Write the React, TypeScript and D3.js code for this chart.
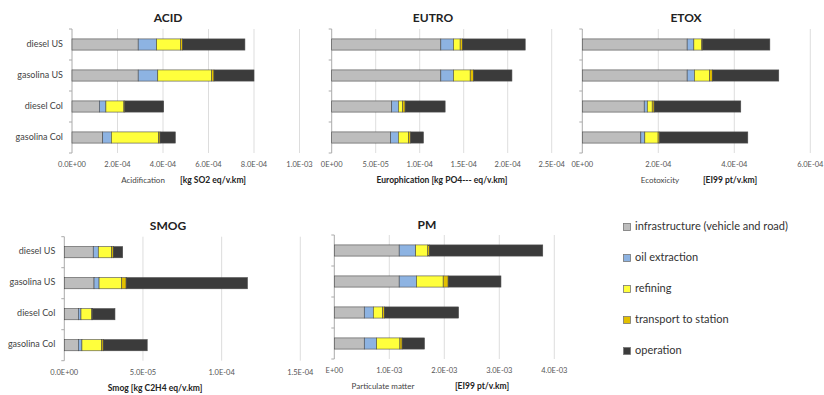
import React from 'react';
import * as d3 from 'd3';

const categories = ['diesel US', 'gasolina US', 'diesel Col', 'gasolina Col'];
const seriesNames = [
  'infrastructure (vehicle and road)',
  'oil extraction',
  'refining',
  'transport to station',
  'operation',
];
const seriesColors = ['#bdbdbd', '#8db3e2', '#ffff3c', '#e3c000', '#3b3b3b'];

// rows follow categories, columns follow seriesNames
const acidValues = [
  [2.91e-4, 0.81e-4, 1.05e-4, 0.09e-4, 2.74e-4],
  [2.91e-4, 0.86e-4, 2.37e-4, 0.1e-4, 1.76e-4],
  [1.2e-4, 0.29e-4, 0.79e-4, 0.04e-4, 1.71e-4],
  [1.35e-4, 0.38e-4, 2.08e-4, 0.06e-4, 0.67e-4],
];
const eutroValues = [
  [1.24e-4, 0.144e-4, 0.076e-4, 0.027e-4, 0.712e-4],
  [1.24e-4, 0.144e-4, 0.19e-4, 0.038e-4, 0.436e-4],
  [0.682e-4, 0.076e-4, 0.049e-4, 0.027e-4, 0.455e-4],
  [0.67e-4, 0.087e-4, 0.114e-4, 0.027e-4, 0.144e-4],
];
const etoxValues = [
  [2.76e-4, 0.175e-4, 0.2e-4, 0.03e-4, 1.77e-4],
  [2.76e-4, 0.19e-4, 0.4e-4, 0.07e-4, 1.75e-4],
  [1.63e-4, 0.08e-4, 0.13e-4, 0.05e-4, 2.28e-4],
  [1.54e-4, 0.105e-4, 0.35e-4, 0.04e-4, 2.32e-4],
];
const smogValues = [
  [1.84e-5, 0.32e-5, 0.85e-5, 0.1e-5, 0.6e-5],
  [1.89e-5, 0.32e-5, 1.44e-5, 0.28e-5, 7.71e-5],
  [0.89e-5, 0.17e-5, 0.68e-5, 0.04e-5, 1.44e-5],
  [0.89e-5, 0.23e-5, 1.25e-5, 0.1e-5, 2.8e-5],
];
const pmValues = [
  [1.18e-3, 0.3e-3, 0.22e-3, 0.03e-3, 2.06e-3],
  [1.18e-3, 0.315e-3, 0.485e-3, 0.09e-3, 0.96e-3],
  [0.545e-3, 0.164e-3, 0.17e-3, 0.03e-3, 1.35e-3],
  [0.545e-3, 0.224e-3, 0.424e-3, 0.04e-3, 0.406e-3],
];

const acidTicks = ['0.0E+00', '2.0E-04', '4.0E-04', '6.0E-04', '8.0E-04', '1.0E-03'];
const eutroTicks = ['0E+00', '5.0E-05', '1.0E-04', '1.5E-04', '2.0E-04', '2.5E-04'];
const etoxTicks = ['0E+00', '2.0E-04', '4.0E-04', '6.0E-04'];
const smogTicks = ['0.0E+00', '5.0E-05', '1.0E-04', '1.5E-04'];
const pmTicks = ['E+00', '1.0E-03', '2.0E-03', '3.0E-03', '4.0E-03'];

const FONT = 'Lato, "Open Sans", sans-serif';

type PanelProps = {
  title: string;
  titleX: number;
  titleY: number;
  values: number[][];
  max: number;
  tickLabels: string[];
  left: number;
  width: number;
  top: number;
  bottom: number;
  axisName?: string;
  axisUnit: string;
  nameX?: number;
  unitX: number;
  showCategories?: boolean;
};

const Panel = ({
  title, titleX, titleY, values, max, tickLabels, left, width, top, bottom,
  axisName, axisUnit, nameX, unitX, showCategories = false,
}: PanelProps) => {
  const x = d3.scaleLinear().domain([0, max]).range([left, left + width]);
  const y = d3.scaleBand<string>()
    .domain(categories)
    .range([top, bottom])
    .paddingInner(0.64)
    .paddingOuter(0.32);

  const rows = values.map((v, i) => {
    const row: any = { cat: categories[i] };
    seriesNames.forEach((s, j) => { row[s] = v[j]; });
    return row;
  });
  const stacked = d3.stack().keys(seriesNames)(rows);

  const step = max / (tickLabels.length - 1);
  const tickVals = tickLabels.map((_, i) => i * step);
  const bandStep = (bottom - top) / categories.length;

  return (
    <g fontFamily={FONT}>
      <text x={titleX} y={titleY} textAnchor="middle" fontSize={12} fontWeight="bold" fill="#222">
        {title}
      </text>
      {tickVals.map((t, i) => (
        <g key={i}>
          {i > 0 && (
            <line x1={x(t)} x2={x(t)} y1={top} y2={bottom} stroke="#d4d4d4" strokeWidth={0.8} />
          )}
          <text x={x(t)} y={bottom + 14} textAnchor="middle" fontSize={7.5} fill="#555">
            {tickLabels[i]}
          </text>
        </g>
      ))}
      <line x1={left} x2={left} y1={top} y2={bottom} stroke="#aaa" />
      {d3.range(categories.length + 1).map((i) => (
        <line key={i} x1={left - 3} x2={left} y1={top + i * bandStep} y2={top + i * bandStep} stroke="#aaa" />
      ))}
      {stacked.map((layer, si) => (
        <g key={layer.key} fill={seriesColors[si]}>
          {layer.map((d, ci) => (
            <rect
              key={ci}
              x={x(d[0])}
              y={y(categories[ci])}
              width={Math.max(0, x(d[1]) - x(d[0]))}
              height={y.bandwidth()}
              stroke="#4a4a4a"
              strokeWidth={0.6}
            />
          ))}
        </g>
      ))}
      {showCategories && categories.map((c) => (
        <text
          key={c}
          x={left - 9}
          y={(y(c) as number) + y.bandwidth() / 2}
          textAnchor="end"
          dominantBaseline="middle"
          fontSize={9}
          fill="#444"
        >
          {c}
        </text>
      ))}
      {axisName && (
        <text x={nameX} y={bottom + 30} textAnchor="middle" fontSize={8} fill="#444">
          {axisName}
        </text>
      )}
      <text x={unitX} y={bottom + 30} textAnchor="middle" fontSize={8.5} fontWeight="bold" fill="#222">
        {axisUnit}
      </text>
    </g>
  );
};

const Legend = () => {
  const lx = 627;
  const ly = 227;
  return (
    <g fontFamily={FONT}>
      {seriesNames.map((s, i) => (
        <g key={s} transform={`translate(${lx}, ${ly + i * 31})`}>
          <rect x={-3.5} y={-3.5} width={7} height={7} fill={seriesColors[i]} stroke="#777" strokeWidth={0.8} />
          <text x={8} y={0} dominantBaseline="middle" fontSize={11} fill="#333">{s}</text>
        </g>
      ))}
    </g>
  );
};

const App = () => (
  <div style={{ position: 'absolute', left: 0, top: 0 }}>
    <svg width={824} height={395} style={{ display: 'block', background: '#fff' }}>
      <Panel
        title="ACID"
        titleX={168}
        titleY={22}
        values={acidValues}
        max={1e-3}
        tickLabels={acidTicks}
        left={72}
        width={227.5}
        top={29}
        bottom={153}
        axisName="Acidification"
        nameX={143}
        axisUnit="[kg SO2 eq/v.km]"
        unitX={213}
        showCategories
      />
      <Panel
        title="EUTRO"
        titleX={433}
        titleY={22}
        values={eutroValues}
        max={2.5e-4}
        tickLabels={eutroTicks}
        left={331.7}
        width={220}
        top={29}
        bottom={153}
        axisUnit="Europhication [kg PO4--- eq/v.km]"
        unitX={442}
      />
      <Panel
        title="ETOX"
        titleX={686}
        titleY={22}
        values={etoxValues}
        max={6e-4}
        tickLabels={etoxTicks}
        left={582.3}
        width={228}
        top={29}
        bottom={153}
        axisName="Ecotoxicity"
        nameX={660}
        axisUnit="[EI99 pt/v.km]"
        unitX={730}
      />
      <Panel
        title="SMOG"
        titleX={168}
        titleY={230}
        values={smogValues}
        max={1.5e-4}
        tickLabels={smogTicks}
        left={64.3}
        width={236}
        top={236.7}
        bottom={360.7}
        axisUnit="Smog [kg C2H4 eq/v.km]"
        unitX={155}
        showCategories
      />
      <Panel
        title="PM"
        titleX={427}
        titleY={229}
        values={pmValues}
        max={4e-3}
        tickLabels={pmTicks}
        left={334.3}
        width={220}
        top={235}
        bottom={359}
        axisName="Particulate matter"
        nameX={383}
        axisUnit="[EI99 pt/v.km]"
        unitX={482}
      />
      <Legend />
    </svg>
  </div>
);

export default App;
